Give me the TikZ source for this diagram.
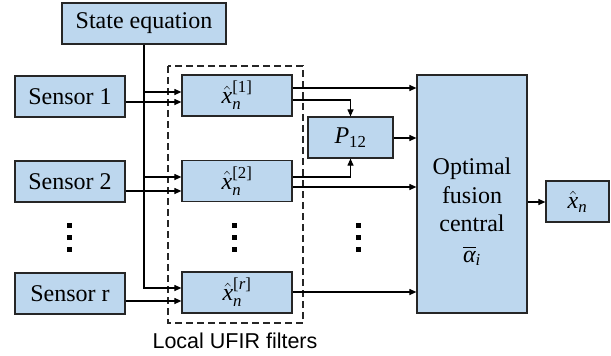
\documentclass[tikz,border=0pt]{standalone}
\usepackage{amsmath}
\usepackage{fontspec}
\setmainfont{Liberation Serif}
\newfontfamily\labelfont{Liberation Sans}
\usetikzlibrary{arrows.meta}
\definecolor{boxfill}{HTML}{BDD7EE}
\definecolor{boxdraw}{HTML}{262626}
\newcommand{\xhat}{\hat{\textit{x}}}
\begin{document}
\begin{tikzpicture}[x=1pt,y=-1pt,
  blk/.style={draw=boxdraw, fill=boxfill, line width=1.2pt, minimum width=#1,
    minimum height=41pt, inner sep=0pt, font=\fontsize{24}{28}\selectfont},
  conn/.style={draw=black, line width=1.1pt},
  arr/.style={conn, -{Triangle[length=7pt,width=6pt]}},
  dotsq/.style={fill=black, minimum size=5pt, inner sep=0pt},
  grp/.style={draw=boxdraw, line width=1.1pt, dash pattern=on 7pt off 4pt}]
\useasboundingbox (0,0) rectangle (611,356);

% group box
\draw[grp] (168,66) rectangle (303,323);
\node[font=\labelfont\fontsize{21.5}{25}\selectfont] (grplabel) at (235,341) {Local UFIR filters};

% blocks
\node[blk=164pt] (state) at (144,23.5) {State equation};
\node[blk=110pt] (s1) at (70,96.5) {Sensor 1};
\node[blk=110pt] (s2) at (70,181.5) {Sensor 2};
\node[blk=110pt] (sr) at (70,293.5) {Sensor r};
\node[blk=110pt] (f1) at (237,95.5) {$\xhat_{\textit{n}}^{\text{[1]}}$};
\node[blk=110pt] (f2) at (237,181) {$\xhat_{\textit{n}}^{\text{[2]}}$};
\node[blk=110pt] (fr) at (237,292.5) {$\xhat_{\textit{n}}^{\text{[\textit{r}]}}$};
\node[blk=85pt] (p12) at (350.5,137.5) {$\textit{P}_{\text{12}}$};
\node[blk=110pt, minimum height=238pt] (fus) at (472,194) {};
\node[font=\fontsize{24}{28.5}\selectfont, align=center] (fuslabel) at (472,212)
  {Optimal\\fusion\\central\\[2pt]$\overline{\textit{α}}_{\textit{i}}$};
\node[blk=63pt] (out) at (577.5,201.5) {$\xhat_{\textit{n}}$};

% dots
\foreach \n/\yy in {1/225,2/237,3/249}{
  \node[dotsq] (ds\n) at (69,\yy) {};
  \node[dotsq] (df\n) at (234,\yy) {};
  \node[dotsq] (dm\n) at (358,\yy) {};
}

% helper levels
\coordinate (a1) at (0,92);
\coordinate (b1) at (0,102);
\coordinate (a2) at (0,177);
\coordinate (b2) at (0,191);
\coordinate (ar) at (0,288);
\coordinate (br) at (0,301);
\coordinate (o1) at (0,88);
\coordinate (q1) at (0,100);
\coordinate (q2) at (0,177);
\coordinate (o2) at (0,187);
\coordinate (or) at (0,292);
\coordinate (op) at (0,138);
\coordinate (oo) at (0,202);

% state equation feed
\draw[arr] (state.south) -- (state.south |- ar) -- (fr.west |- ar);
\draw[arr] (state.south |- a1) -- (f1.west |- a1);
\draw[arr] (state.south |- a2) -- (f2.west |- a2);

% sensors
\draw[arr] (s1.east |- b1) -- (f1.west |- b1);
\draw[arr] (s2.east |- b2) -- (f2.west |- b2);
\draw[arr] (sr.east |- br) -- (fr.west |- br);

% filter outputs
\draw[arr] (f1.east |- o1) -- (fus.west |- o1);
\draw[arr] (f1.east |- q1) -| (p12.north);
\draw[arr] (f2.east |- q2) -| (p12.south);
\draw[arr] (f2.east |- o2) -- (fus.west |- o2);
\draw[arr] (fr.east |- or) -- (fus.west |- or);
\draw[arr] (p12.east |- op) -- (fus.west |- op);
\draw[arr] (fus.east |- oo) -- (out.west |- oo);
\end{tikzpicture}
\end{document}
